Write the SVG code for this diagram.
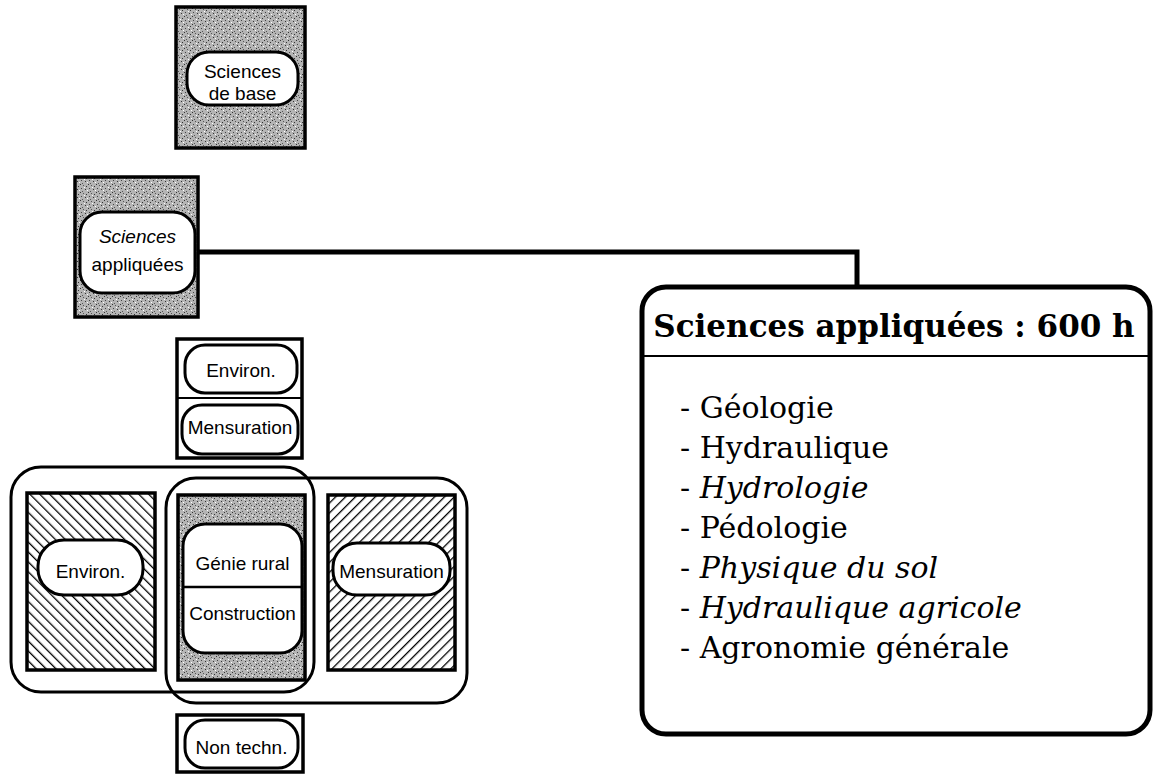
<svg xmlns="http://www.w3.org/2000/svg" width="1155" height="776" viewBox="0 0 1155 776">
<defs>
<pattern id="gray" width="8" height="8" patternUnits="userSpaceOnUse">
<rect width="8" height="8" fill="#b4b4b4"/>
<rect x="0" y="0" width="1" height="1" fill="#333"/>
<rect x="3" y="1" width="1" height="1" fill="#555"/>
<rect x="6" y="2" width="1" height="1" fill="#333"/>
<rect x="1" y="4" width="1" height="1" fill="#444"/>
<rect x="5" y="5" width="1" height="1" fill="#333"/>
<rect x="2" y="7" width="1" height="1" fill="#555"/>
<rect x="7" y="6" width="1" height="1" fill="#fff"/>
<rect x="4" y="3" width="1" height="1" fill="#fff"/>
</pattern>
<pattern id="hatchBack" width="7" height="7" patternUnits="userSpaceOnUse" patternTransform="rotate(-45)">
<rect width="7" height="7" fill="#fff"/>
<line x1="0" y1="0" x2="0" y2="7" stroke="#000" stroke-width="2.6"/>
</pattern>
<pattern id="hatchFwd" width="7" height="7" patternUnits="userSpaceOnUse" patternTransform="rotate(45)">
<rect width="7" height="7" fill="#fff"/>
<line x1="0" y1="0" x2="0" y2="7" stroke="#000" stroke-width="2.6"/>
</pattern>
</defs>
<style>
.frame{stroke:#000;stroke-width:3.5}
.pill{fill:#fff;stroke:#000;stroke-width:3}
.grp{fill:none;stroke:#000;stroke-width:3}
.lbl{font-family:"Liberation Sans",Arial,sans-serif;font-size:19px;text-anchor:middle;fill:#000}
.title{font-family:"DejaVu Serif","Liberation Serif",serif;font-size:31px;font-weight:bold;text-anchor:middle;fill:#000}
.item{font-family:"DejaVu Serif","Liberation Serif",serif;font-size:30px;fill:#000}
.conn{fill:none;stroke:#000;stroke-width:5}
</style>
<rect width="1155" height="776" fill="#fff"/>

<g id="groups">
<rect class="grp" x="11" y="467" width="303" height="225" rx="30"/>
<rect class="grp" x="166" y="478" width="301" height="225" rx="30"/>
</g>

<g id="sciences-de-base">
<rect class="frame" x="176" y="7" width="129" height="141" fill="url(#gray)"/>
<rect class="pill" x="187" y="52" width="111" height="53" rx="22"/>
<text class="lbl" x="242.5" y="78">Sciences</text>
<text class="lbl" x="242.5" y="100">de base</text>
</g>

<g id="sciences-appliquees">
<rect class="frame" x="75" y="177" width="123" height="140" fill="url(#gray)"/>
<rect class="pill" x="80" y="212" width="115" height="81" rx="22"/>
<text class="lbl" x="137.5" y="243" font-style="italic">Sciences</text>
<text class="lbl" x="137.5" y="271">appliquées</text>
</g>

<g id="environ-mensuration-small">
<rect class="frame" x="177" y="339" width="125" height="119" fill="#fff" stroke-width="2.5"/>
<line x1="177" y1="398" x2="302" y2="398" stroke="#000" stroke-width="2"/>
<rect class="pill" x="185" y="345" width="112" height="48" rx="20"/>
<text class="lbl" x="241" y="377">Environ.</text>
<rect class="pill" x="182" y="405" width="116" height="49" rx="20"/>
<text class="lbl" x="240" y="434">Mensuration</text>
</g>

<g id="environ">
<rect class="frame" x="27" y="493" width="128" height="177" fill="url(#hatchBack)"/>
<rect class="pill" x="38" y="540" width="105" height="55" rx="26"/>
<text class="lbl" x="90.5" y="578">Environ.</text>
</g>

<g id="genie-construction">
<rect class="frame" x="178" y="495" width="127" height="185" fill="url(#gray)"/>
<rect class="pill" x="183" y="524" width="119" height="129" rx="22"/>
<line x1="183" y1="587" x2="302" y2="587" stroke="#000" stroke-width="2.5"/>
<text class="lbl" x="242.5" y="570">Génie rural</text>
<text class="lbl" x="242.5" y="620">Construction</text>
</g>

<g id="mensuration">
<rect class="frame" x="328" y="495" width="127" height="175" fill="url(#hatchFwd)"/>
<rect class="pill" x="333" y="543" width="117" height="52" rx="24"/>
<text class="lbl" x="391.5" y="578">Mensuration</text>
</g>

<g id="non-techn">
<rect class="frame" x="177" y="715" width="126" height="57" fill="#fff" stroke-width="2.5"/>
<rect class="pill" x="185" y="720" width="113" height="48" rx="20"/>
<text class="lbl" x="241.5" y="754">Non techn.</text>
</g>

<g id="connectors">
<polyline class="conn" points="198,252 857,252 857,288"/>
</g>

<g id="details">
<rect x="642" y="287" width="508" height="447" rx="24" fill="#fff" stroke="#000" stroke-width="5"/>
<line x1="642" y1="356" x2="1150" y2="356" stroke="#000" stroke-width="2"/>
<text class="title" x="894" y="337">Sciences appliquées : 600 h</text>
<text class="item" x="680" y="418">- Géologie</text>
<text class="item" x="680" y="458">- Hydraulique</text>
<text class="item" x="680" y="498">- <tspan font-style="italic">Hydrologie</tspan></text>
<text class="item" x="680" y="538">- Pédologie</text>
<text class="item" x="680" y="578">- <tspan font-style="italic">Physique du sol</tspan></text>
<text class="item" x="680" y="618">- <tspan font-style="italic">Hydraulique agricole</tspan></text>
<text class="item" x="680" y="658">- Agronomie générale</text>
</g>
</svg>
